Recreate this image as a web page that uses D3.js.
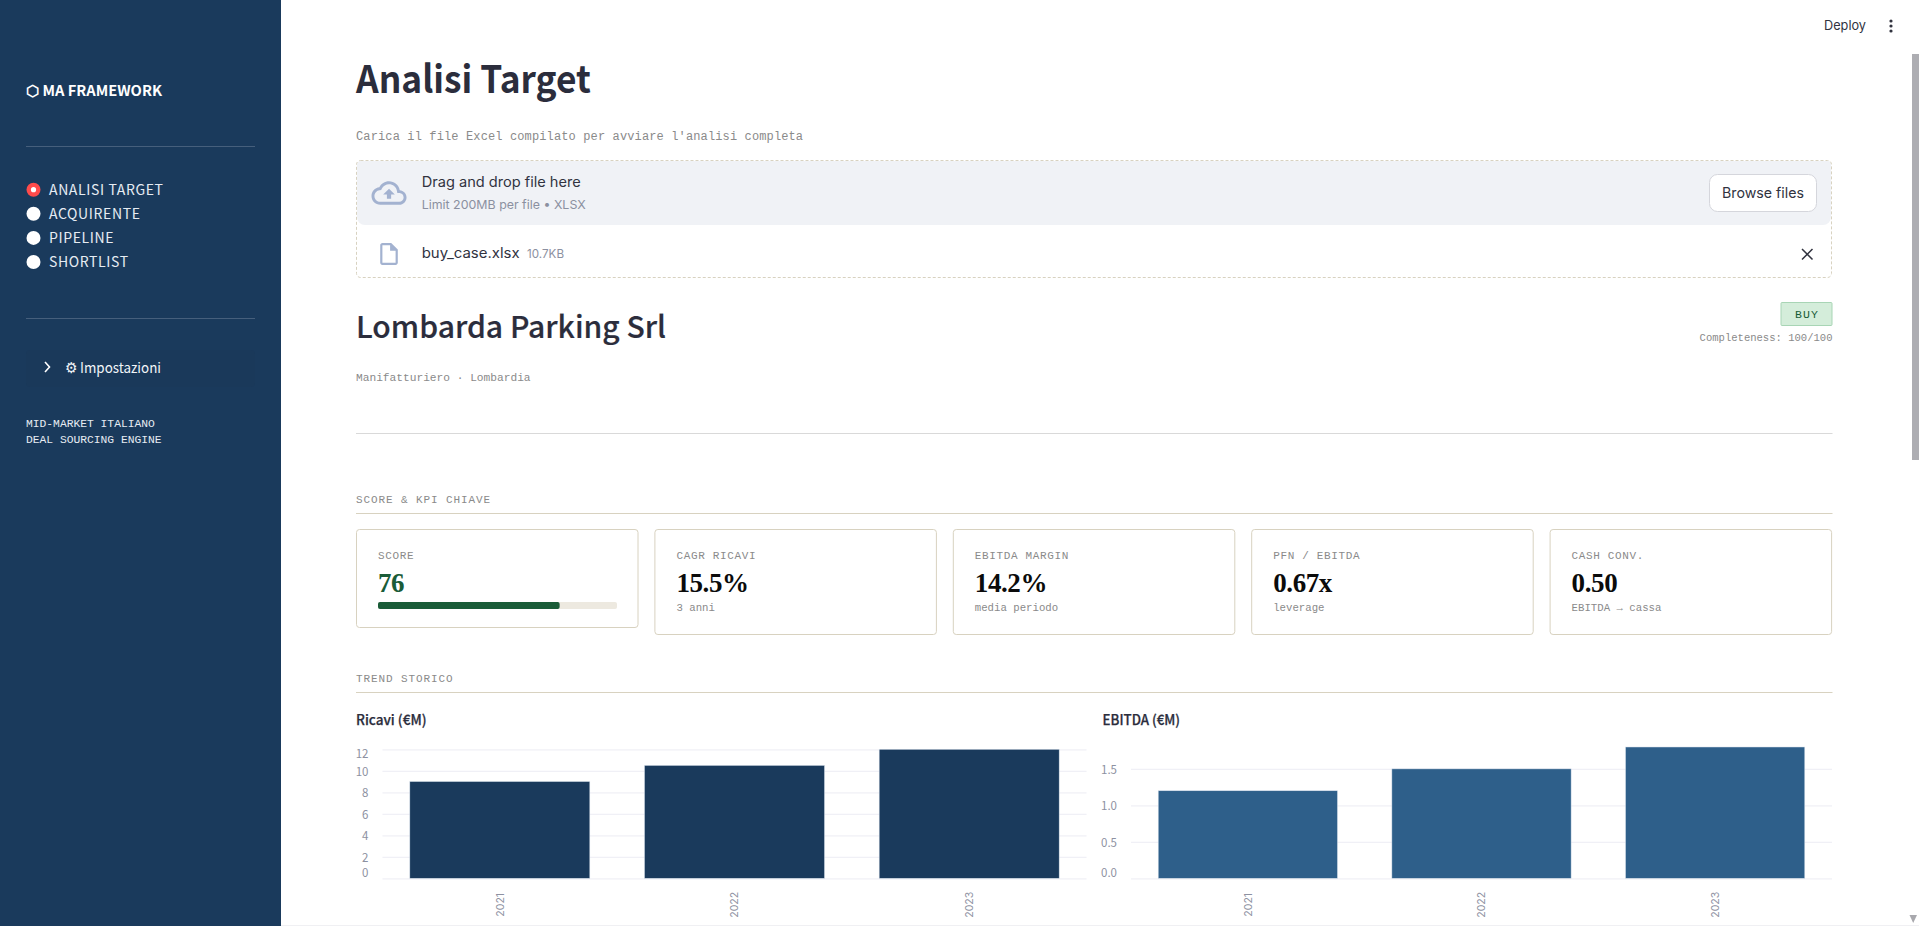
<!DOCTYPE html>
<html>

<head>
    <meta charset="utf-8">
    <script type="text/javascript" src="https://d3js.org/d3.v7.min.js"></script>
    <style>
        html, body { margin: 0; padding: 0; background: #fff; overflow: hidden; }
        svg { display: block; }
        .cjk { font-family: "Noto Sans CJK SC", "Noto Sans", sans-serif; }
        .mono { font-family: "Liberation Mono", monospace; }
        .ui { font-family: Inter, "Open Sans", sans-serif; }
        .num { font-family: "Liberation Serif", serif; font-weight: 700; }
    </style>
</head>

<body>
    <script>
        var w = 1919, h = 926

        // chart data
        var years = ['2021', '2022', '2023']
        var ricavi = [9.0, 10.5, 12.0]
        var ebitda = [1.2, 1.5, 1.8]
        var ricaviTicks = [0, 2, 4, 6, 8, 10, 12]
        var ebitdaTicks = [0, 0.5, 1.0, 1.5]

        // kpi cards
        var kpiLabels = ['SCORE', 'CAGR RICAVI', 'EBITDA MARGIN', 'PFN / EBITDA', 'CASH CONV.']
        var kpiValues = ['76', '15.5%', '14.2%', '0.67x', '0.50']
        var kpiSubs = ['', '3 anni', 'media periodo', 'leverage', 'EBITDA → cassa']
        var score = 76

        var navItems = ['ANALISI TARGET', 'ACQUIRENTE', 'PIPELINE', 'SHORTLIST']
        var navActive = 'ANALISI TARGET'

        var svg = d3.select('body').append('svg')
        svg.attr('width', w).attr('height', h)

        function txt(x, y, str, cls, size, fill, opts) {
            opts = opts || {}
            var t = svg.append('text')
                .attr('x', x)
                .attr('y', y)
                .attr('class', cls)
                .attr('font-size', size)
                .attr('fill', fill)
                .style('white-space', 'pre')
                .text(str)
            if (opts.weight) t.attr('font-weight', opts.weight)
            if (opts.ls) t.attr('letter-spacing', opts.ls)
            if (opts.anchor) t.attr('text-anchor', opts.anchor)
            if (opts.width) t.attr('textLength', opts.width).attr('lengthAdjust', 'spacingAndGlyphs')
            if (opts.thick) t.attr('stroke', fill).attr('stroke-width', opts.thick)
            return t
        }

        //sidebar
        svg.append('rect').attr('width', 281).attr('height', h).attr('fill', '#1a3a5c')

        txt(26, 96, '⬡ MA FRAMEWORK', 'cjk', 14.5, '#ffffff', { weight: 700, width: 136 })

        svg.append('line').attr('x1', 26).attr('x2', 255).attr('y1', 146.5).attr('y2', 146.5).attr('stroke', '#465f7c')
        svg.append('line').attr('x1', 26).attr('x2', 255).attr('y1', 318.5).attr('y2', 318.5).attr('stroke', '#465f7c')

        var navY = d3.scalePoint().domain(navItems).range([189.7, 262])
        navItems.forEach(function (d) {
            var active = d === navActive
            svg.append('circle')
                .attr('cx', 33.5)
                .attr('cy', navY(d))
                .attr('r', 7)
                .attr('fill', active ? '#ff4b4b' : '#ffffff')
            if (active) {
                svg.append('circle').attr('cx', 33.5).attr('cy', navY(d)).attr('r', 2.6).attr('fill', '#ffffff')
            }
            txt(49, navY(d) + 5, d, 'cjk', 14, '#e6ecf3', { ls: 0.62 })
        })

        svg.append('rect').attr('x', 26).attr('y', 350).attr('width', 229).attr('height', 37)
            .attr('rx', 4).attr('fill', '#1a395a')
        svg.append('path').attr('d', 'M45 362 L49.5 367 L45 372')
            .attr('fill', 'none').attr('stroke', '#ffffff').attr('stroke-width', 1.6)
        txt(65, 373, '⚙ Impostazioni', 'cjk', 14.5, '#f2f5f8', { width: 96 })

        txt(26, 427, 'MID-MARKET ITALIANO', 'mono', 11.3, '#e6ecf3')
        txt(26, 443, 'DEAL SOURCING ENGINE', 'mono', 11.3, '#e6ecf3')

        //top bar and scrollbar
        txt(1824, 30, 'Deploy', 'ui', 13.5, '#31333f', { width: 42 })
        svg.selectAll('.dot').data([21, 26, 31]).enter().append('circle')
            .attr('class', 'dot').attr('cx', 1891).attr('cy', d => d).attr('r', 1.6).attr('fill', '#31333f')
        svg.append('rect').attr('x', 1912).attr('y', 54).attr('width', 7).attr('height', 406).attr('fill', '#adadb2')
        svg.append('path').attr('d', 'M1909.5 915 L1917 915 L1913.2 923 Z').attr('fill', '#a8a8ad')
        svg.append('line').attr('x1', 281).attr('x2', 1919).attr('y1', 925.5).attr('y2', 925.5).attr('stroke', '#f0f0f3')

        //header
        txt(356, 93, 'Analisi Target', 'cjk', 38, '#2b2d3c', { weight: 700, width: 235 })
        txt(356, 140, "Carica il file Excel compilato per avviare l'analisi completa", 'mono', 12, '#8a8a8a', { ls: 0.13 })

        //uploader
        svg.append('path')
            .attr('d', 'M361 161 H1827 a4 4 0 0 1 4 4 V217 a8 8 0 0 1 -8 8 H365 a8 8 0 0 1 -8 -8 V165 a4 4 0 0 1 4 -4 Z')
            .attr('fill', '#f0f2f6')
        svg.append('rect').attr('x', 356.5).attr('y', 160.5).attr('width', 1475).attr('height', 117)
            .attr('rx', 4).attr('fill', 'none').attr('stroke', '#d8d2c0').attr('stroke-dasharray', '3 2')
        svg.append('path')
            .attr('d', 'M19.35 10.04C18.67 6.59 15.64 4 12 4 9.11 4 6.6 5.64 5.35 8.04 2.34 8.36 0 10.91 0 14c0 3.31 2.69 6 6 6h13c2.76 0 5-2.24 5-5 0-2.64-2.05-4.78-4.65-4.96zM19 18H6c-2.21 0-4-1.79-4-4 0-2.05 1.53-3.76 3.56-3.97l1.07-.11.5-.95C8.08 7.14 9.94 6 12 6c2.62 0 4.88 1.86 5.39 4.43l.3 1.5 1.53.11c1.56.1 2.78 1.41 2.78 2.96 0 1.65-1.35 3-3 3zM8 13h2.55v3h2.9v-3H16l-4-4z')
            .attr('transform', 'translate(371.5,175.5) scale(1.46)')
            .attr('fill', '#a3b2d0')
        txt(421.7, 187, 'Drag and drop file here', 'ui', 14, '#31333f', { width: 159 })
        txt(421.7, 209, 'Limit 200MB per file • XLSX', 'ui', 12, '#8b90a0', { width: 164 })
        svg.append('rect').attr('x', 1709.5).attr('y', 174.5).attr('width', 107).attr('height', 37).attr('rx', 8)
            .attr('fill', '#ffffff').attr('stroke', '#d5d6dc')
        txt(1722, 198, 'Browse files', 'ui', 14.5, '#31333f', { width: 82 })

        svg.append('path')
            .attr('d', 'M14 2H6c-1.1 0-1.99.9-1.99 2L4 20c0 1.1.89 2 1.99 2H18c1.1 0 2-.9 2-2V8l-6-6zM6 20V4h7v5h5v11H6z')
            .attr('transform', 'translate(375.8,240.8) scale(1.1)')
            .attr('fill', '#a3b2d0')
        txt(421.7, 258, 'buy_case.xlsx', 'ui', 14, '#31333f', { width: 98 })
        txt(527, 258, '10.7KB', 'ui', 12, '#8b90a0', { width: 37 })
        svg.append('path').attr('d', 'M1802 249 L1812.5 259.5 M1812.5 249 L1802 259.5')
            .attr('stroke', '#31333f').attr('stroke-width', 1.5)

        //company
        txt(356, 338, 'Lombarda Parking Srl', 'cjk', 30, '#2b2d3c', { weight: 500, width: 310, thick: 0.2 })
        txt(356, 381, 'Manifatturiero · Lombardia', 'mono', 11.2, '#8a8a8a')

        svg.append('rect').attr('x', 1781).attr('y', 302.5).attr('width', 51).attr('height', 23).attr('rx', 1)
            .attr('fill', '#d4edda').attr('stroke', '#a8d5b5')
        txt(1807, 318, 'BUY', 'mono', 11.5, '#1a5c38', { anchor: 'middle', ls: 1.1 })
        txt(1832.5, 341, 'Completeness: 100/100', 'mono', 10.55, '#8a8a8a', { anchor: 'end' })

        svg.append('line').attr('x1', 356).attr('x2', 1832.5).attr('y1', 433.5).attr('y2', 433.5).attr('stroke', '#d9d9d9')

        //section headers
        function section(title, y) {
            txt(356, y, title, 'mono', 11, '#8a8a8a', { ls: 0.9 })
            svg.append('line').attr('x1', 356).attr('x2', 1832.5).attr('y1', y + 11).attr('y2', y + 11).attr('stroke', '#d8d2c0')
        }
        section('SCORE & KPI CHIAVE', 502.5)
        section('TREND STORICO', 681.5)

        //cards
        kpiLabels.forEach(function (label, i) {
            var x = 356.5 + i * 298.4
            var first = i === 0
            svg.append('rect').attr('x', x).attr('y', 529.5).attr('width', 281.5)
                .attr('height', first ? 98 : 105).attr('rx', 3)
                .attr('fill', '#ffffff').attr('stroke', '#d8d2c0')
            txt(x + 21.5, 559, label, 'mono', 11, '#8a8a8a', { ls: 0.65 })
            txt(x + 21.5, 592, kpiValues[i], 'num', 27, first ? '#1a5c38' : '#0b0b0b', { ls: -0.4 })
            if (kpiSubs[i]) txt(x + 21.5, 611, kpiSubs[i], 'mono', 10.7, '#8a8a8a')
        })

        var scoreScale = d3.scaleLinear().domain([0, 100]).range([0, 239])
        svg.append('rect').attr('x', 378).attr('y', 602).attr('width', scoreScale(100)).attr('height', 7).attr('rx', 2).attr('fill', '#ede9e0')
        svg.append('rect').attr('x', 378).attr('y', 602).attr('width', scoreScale(score)).attr('height', 7).attr('rx', 2).attr('fill', '#1a5c38')

        //bar charts
        function barChart(title, titleX, titleW, values, ticks, fmt, maxY, x0, x1, top, color) {
            var bottom = 878.3
            txt(titleX, 725, title, 'cjk', 14, '#2b2d3c', { weight: 500, width: titleW, thick: 0.25 })

            var xscale = d3.scaleBand()
                .domain(years)
                .range([x0, x1])
                .paddingInner(0.233)
                .paddingOuter(0.1165)

            var yscale = d3.scaleLinear()
                .domain([0, maxY])
                .range([bottom, top])

            var yAxis = svg.append('g')
                .attr('transform', 'translate(' + x0 + ',0)')
                .call(d3.axisLeft(yscale).tickValues(ticks).tickFormat(fmt).tickSize(-(x1 - x0)).tickPadding(14))
            yAxis.select('.domain').remove()
            yAxis.selectAll('line').attr('stroke', '#f0f0f6').attr('stroke-width', 1.2)
            yAxis.selectAll('text')
                .attr('class', 'cjk')
                .attr('font-size', 11.5)
                .attr('fill', '#8d91a1')
                .attr('dy', function (d) {
                    // first and last label sit inside the plot
                    if (d === 0) return '-0.12em'
                    if (d === maxY) return '0.7em'
                    return '0.4em'
                })

            svg.append('g').selectAll('rect').data(values).enter().append('rect')
                .attr('x', (d, i) => xscale(years[i]))
                .attr('y', d => yscale(d))
                .attr('width', xscale.bandwidth())
                .attr('height', d => bottom - yscale(d))
                .attr('fill', color)
                .attr('stroke', '#d5dfea')
                .attr('stroke-width', 0.5)

            var xAxis = svg.append('g')
                .attr('transform', 'translate(0,' + bottom + ')')
                .call(d3.axisBottom(xscale).tickSize(0))
            xAxis.select('.domain').remove()
            xAxis.selectAll('text')
                .attr('class', 'ui')
                .attr('font-size', 10.5)
                .attr('fill', '#8d91a1')
                .attr('text-anchor', 'middle')
                .attr('transform', 'translate(0,26.5) rotate(-90)')
                .attr('x', 0)
                .attr('y', 0)
                .attr('dy', '0.35em')
        }

        barChart('Ricavi (€M)', 356, 70.5, ricavi, ricaviTicks, d3.format('d'), 12, 382.5, 1086.5, 749.3, '#1a3a5c')
        barChart('EBITDA (€M)', 1102.6, 77.5, ebitda, ebitdaTicks, d3.format('.1f'), 1.8, 1131, 1832, 747, '#2e5f8a')
    </script>
</body>
